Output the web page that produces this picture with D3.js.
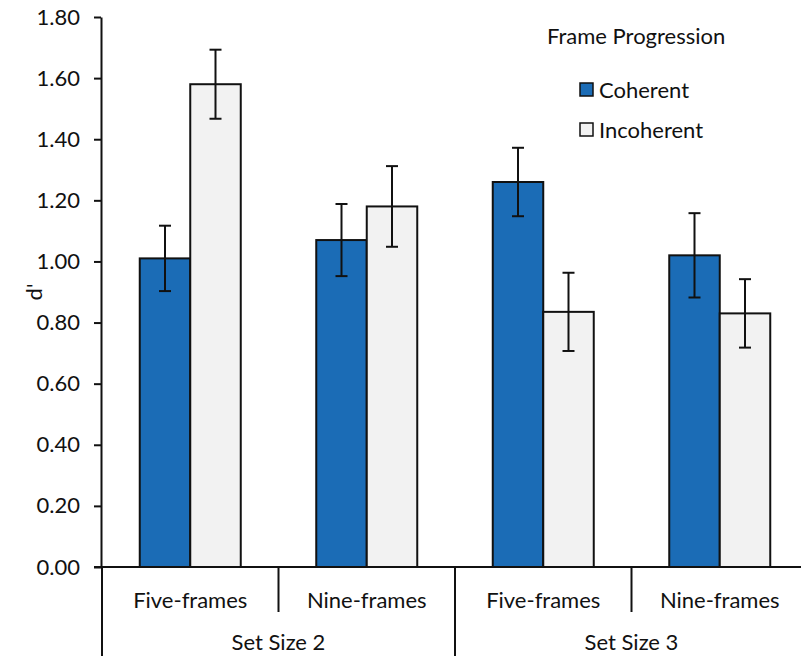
<!DOCTYPE html>
<html>
<head>
<meta charset="utf-8">
<script src="https://cdn.jsdelivr.net/npm/d3@7"></script>
<style>
  body { margin: 0; background: #fff; }
  text { font-family: Lato, "Noto Sans", sans-serif; fill: #111; }
</style>
</head>
<body>
<div id="chart"></div>
<script>
// data
var setSizes = ["Set Size 2", "Set Size 3"];
var frames = ["Five-frames", "Nine-frames"];
var series = ["Coherent", "Incoherent"];
var coherent = [1.01, 1.07, 1.26, 1.02];
var incoherent = [1.58, 1.18, 0.835, 0.83];
var coherentErr = [0.107, 0.118, 0.112, 0.138];
var incoherentErr = [0.113, 0.132, 0.128, 0.112];
var yTicks = [0, 0.2, 0.4, 0.6, 0.8, 1.0, 1.2, 1.4, 1.6, 1.8];

var W = 801, H = 656;
var colors = { Coherent: "#1b6cb6", Incoherent: "#f2f2f2" };

var cats = [];
setSizes.forEach(function(s) {
  frames.forEach(function(f) { cats.push(s + "|" + f); });
});

var rows = cats.map(function(c, i) {
  return {
    cat: c,
    values: [
      { key: "Coherent", v: coherent[i], e: coherentErr[i] },
      { key: "Incoherent", v: incoherent[i], e: incoherentErr[i] }
    ]
  };
});

var svg = d3.select("#chart").append("svg")
    .attr("width", W)
    .attr("height", H);

var x = d3.scaleBand().domain(cats).range([102, 808]).paddingInner(0).paddingOuter(0);
var xOuter = d3.scaleBand().domain(setSizes).range([102, 808]);
var y = d3.scaleLinear().domain([0, 1.8]).range([567, 17]);
var barW = 50.5;
var xs = d3.scaleBand().domain(series).range([0, barW * 2]);

// bars
var g = svg.selectAll(".grp")
    .data(rows)
  .enter().append("g")
    .attr("transform", function(d) {
      return "translate(" + (x(d.cat) + (x.bandwidth() - barW * 2) / 2) + ",0)";
    });

g.selectAll("rect")
    .data(function(d) { return d.values; })
  .enter().append("rect")
    .attr("x", function(d) { return xs(d.key); })
    .attr("width", xs.bandwidth())
    .attr("y", function(d) { return y(d.v); })
    .attr("height", function(d) { return y(0) - y(d.v); })
    .attr("fill", function(d) { return colors[d.key]; })
    .attr("stroke", "#111")
    .attr("stroke-width", 2);

// error bars
var eb = g.selectAll(".err")
    .data(function(d) { return d.values; })
  .enter().append("g")
    .attr("stroke", "#111")
    .attr("stroke-width", 2);
eb.append("line")
    .attr("x1", function(d) { return xs(d.key) + xs.bandwidth() / 2; })
    .attr("x2", function(d) { return xs(d.key) + xs.bandwidth() / 2; })
    .attr("y1", function(d) { return y(d.v + d.e); })
    .attr("y2", function(d) { return y(d.v - d.e); });
[1, -1].forEach(function(sgn) {
  eb.append("line")
    .attr("x1", function(d) { return xs(d.key) + xs.bandwidth() / 2 - 6; })
    .attr("x2", function(d) { return xs(d.key) + xs.bandwidth() / 2 + 6; })
    .attr("y1", function(d) { return y(d.v + sgn * d.e); })
    .attr("y2", function(d) { return y(d.v + sgn * d.e); });
});

// y axis
var yAxis = svg.append("g")
    .attr("transform", "translate(101,0)")
    .call(d3.axisLeft(y).tickValues(yTicks).tickSize(7).tickSizeOuter(0).tickPadding(14)
      .tickFormat(d3.format(".2f")));
yAxis.select(".domain").attr("stroke", "#111").attr("stroke-width", 2);
yAxis.selectAll(".tick line").attr("stroke", "#111").attr("stroke-width", 2);
yAxis.selectAll(".tick text").style("font-size", "22px").attr("fill", "#111")
    .style("font-family", "Lato, sans-serif");

svg.append("text")
    .attr("transform", "translate(42," + y(0.9) + ") rotate(-90)")
    .attr("text-anchor", "middle")
    .style("font-size", "22px")
    .text("d'");

// x axis (two level)
svg.append("line")
    .attr("x1", 94).attr("x2", W)
    .attr("y1", y(0)).attr("y2", y(0))
    .attr("stroke", "#111").attr("stroke-width", 2);

svg.selectAll(".sep")
    .data(cats)
  .enter().append("line")
    .attr("x1", function(d) { return x(d); })
    .attr("x2", function(d) { return x(d); })
    .attr("y1", y(0))
    .attr("y2", function(d, i) { return i % 2 == 0 ? H : 612; })
    .attr("stroke", "#111").attr("stroke-width", 2);

svg.selectAll(".frameLab")
    .data(cats)
  .enter().append("text")
    .attr("x", function(d) { return x(d) + x.bandwidth() / 2; })
    .attr("y", 608)
    .attr("text-anchor", "middle")
    .style("font-size", "22px")
    .text(function(d) { return d.split("|")[1]; });

svg.selectAll(".setLab")
    .data(setSizes)
  .enter().append("text")
    .attr("x", function(d) { return xOuter(d) + xOuter.bandwidth() / 2; })
    .attr("y", 650)
    .attr("text-anchor", "middle")
    .style("font-size", "22px")
    .text(function(d) { return d; });

// legend
svg.append("text")
    .attr("x", 547).attr("y", 44)
    .style("font-size", "22px")
    .text("Frame Progression");

var lg = svg.selectAll(".lg")
    .data(series)
  .enter().append("g")
    .attr("transform", function(d, i) { return "translate(580," + (83 + i * 40) + ")"; });
lg.append("rect")
    .attr("width", 13).attr("height", 13)
    .attr("fill", function(d) { return colors[d]; })
    .attr("stroke", "#111").attr("stroke-width", 1.5);
lg.append("text")
    .attr("x", 19).attr("y", 15)
    .style("font-size", "22px")
    .text(function(d) { return d; });
</script>
</body>
</html>
